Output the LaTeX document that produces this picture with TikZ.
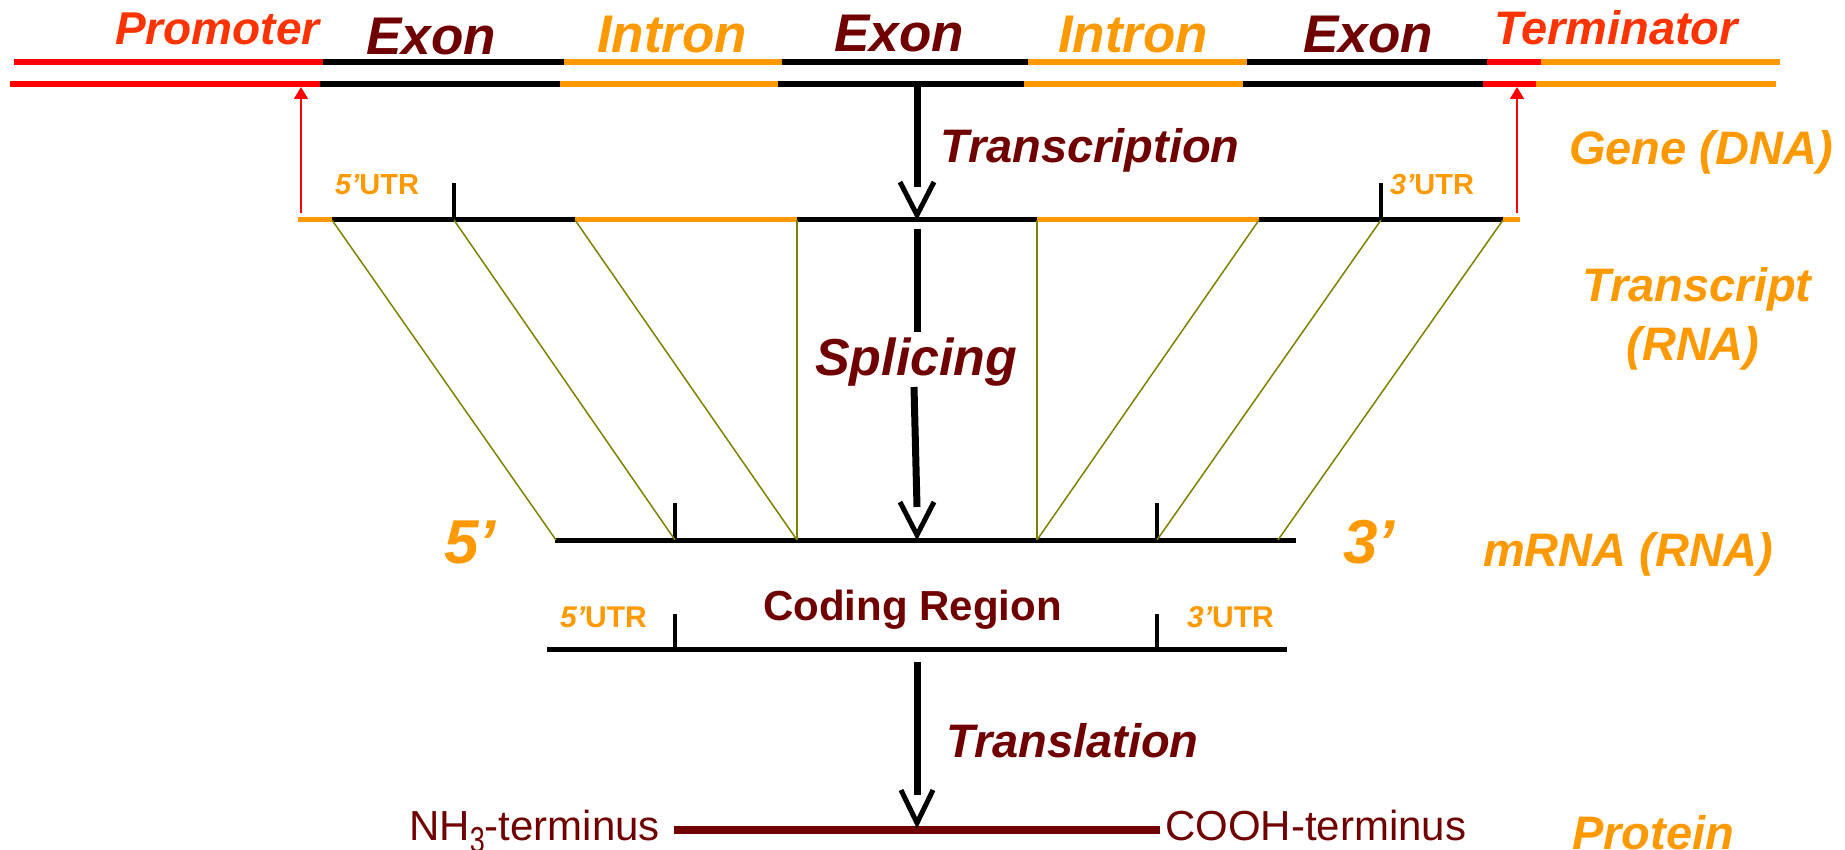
\documentclass[tikz,border=0pt]{standalone}
\usepackage{fontspec}
\usepackage{graphicx}
\setmainfont{Liberation Sans}
\usetikzlibrary{arrows.meta,calc}
\definecolor{dred}{HTML}{700000}
\definecolor{orng}{HTML}{FF9900}
\definecolor{pred}{HTML}{FF3300}
\definecolor{olv}{HTML}{808000}
\newcommand{\setfs}[1]{\fontsize{#1}{#1}\selectfont}
\newcommand{\bigsub}[1]{\raisebox{-12pt}{\scalebox{0.75}[1]{\setfs{36}#1}}}
\begin{document}
\begin{tikzpicture}[x=1pt,y=-1pt,
  dna/.style={line width=6pt},
  rna/.style={line width=5pt},
  tickmark/.style={line width=4.5pt,black},
  olive/.style={olv,line width=1.5pt},
  shaft/.style={line width=7pt,black},
  vhead/.style={line width=5pt,black,line join=miter},
  redarr/.style={red,line width=1.5pt,-{Triangle[length=12pt,width=14pt]}},
  bi/.style={inner sep=0pt,anchor=base west,font=\bfseries\itshape\setfs{#1}},
  bu/.style={inner sep=0pt,anchor=base west,font=\bfseries\setfs{#1}},
  ru/.style={inner sep=0pt,anchor=base west,font=\setfs{#1}},
  bic/.style={inner sep=0pt,anchor=base,font=\bfseries\itshape\setfs{#1}}
]
\useasboundingbox (0,0) rectangle (1845,850);

% ---------- DNA strands ----------
\draw[dna,red]   (14,62) -- (323,62);
\draw[dna,black] (323,62) -- (564,62);
\draw[dna,orng]  (564,62) -- (782,62);
\draw[dna,black] (782,62) -- (1028,62);
\draw[dna,orng]  (1028,62) -- (1247,62);
\draw[dna,black] (1247,62) -- (1487,62);
\draw[dna,red]   (1487,62) -- (1541,62);
\draw[dna,orng]  (1541,62) -- (1780,62);

\draw[dna,red]   (10,84) -- (320,84);
\draw[dna,black] (320,84) -- (560,84);
\draw[dna,orng]  (560,84) -- (778,84);
\draw[dna,black] (778,84) -- (1024,84);
\draw[dna,orng]  (1024,84) -- (1243,84);
\draw[dna,black] (1243,84) -- (1483,84);
\draw[dna,red]   (1483,84) -- (1536,84);
\draw[dna,orng]  (1536,84) -- (1776,84);

% ---------- top labels ----------
\node[bi=46,text=pred] (prom) at (115,45) {Promoter};
\node[bi=53,text=dred] (ex1) at (366,55) {Exon};
\node[bi=53,text=orng] (in1) at (597,53) {Intron};
\node[bi=53,text=dred] (ex2) at (834,52) {Exon};
\node[bi=53,text=orng] (in2) at (1058,53) {Intron};
\node[bi=53,text=dred] (ex3) at (1303,53) {Exon};
\node[bi=47,text=pred] (term) at (1494,45) {Terminator};

% ---------- transcript ----------
\coordinate (t0) at (298,220);
\coordinate (t1) at (332,220);
\coordinate (tu5) at (454,220);
\coordinate (t2) at (575,220);
\coordinate (t3) at (797,220);
\coordinate (t4) at (1037,220);
\coordinate (t5) at (1259,220);
\coordinate (tu3) at (1381,220);
\coordinate (t6) at (1503,220);
\coordinate (t7) at (1520,220);
\draw[rna,orng]  (t0) -- (t1);
\draw[rna,black] (t1) -- (t2);
\draw[rna,orng]  (t2) -- (t3);
\draw[rna,black] (t3) -- (t4);
\draw[rna,orng]  (t4) -- (t5);
\draw[rna,black] (t5) -- (t6);
\draw[rna,orng]  (t6) -- (t7);
\draw[tickmark] (454,183) -- (tu5);
\draw[tickmark] (1381,183) -- (tu3);
\node[bu=29,text=orng] (u5a) at (335,195) {{\itshape 5’}UTR};
\node[bu=29,text=orng] (u3a) at (1390,195) {{\itshape 3’}UTR};

% red arrows (promoter / terminator)
\coordinate (rl0) at (301,213); \coordinate (rl1) at (301,87);
\coordinate (rr0) at (1517,213); \coordinate (rr1) at (1517,87);
\draw[redarr] (rl0) -- (rl1);
\draw[redarr] (rr0) -- (rr1);

% ---------- mRNA ----------
\coordinate (m0) at (556,540);
\coordinate (mu5) at (675,540);
\coordinate (m1) at (797,540);
\coordinate (m2) at (1037,540);
\coordinate (mu3) at (1157,540);
\coordinate (m3) at (1278,540);
\draw[rna,black] (555,540) -- (1296,540);
\draw[tickmark] (675,503) -- (mu5);
\draw[tickmark] (1157,503) -- (mu3);

% splicing connectors
\draw[olive] (t1) -- (m0);
\draw[olive] (tu5) -- (mu5);
\draw[olive] (t2) -- (m1);
\draw[olive] (t3) -- (m1);
\draw[olive] (t4) -- (m2);
\draw[olive] (t5) -- (m2);
\draw[olive] (tu3) -- (mu3);
\draw[olive] (t6) -- (m3);

\node[bi=62,text=orng] (five) at (444,563) {5’};
\node[bi=62,text=orng] (three) at (1343,563) {3’};

% ---------- coding region ----------
\draw[rna,black] (547,649) -- (1287,649);
\draw[tickmark] (675,614) -- (675,649);
\draw[tickmark] (1157,614) -- (1157,649);
\node[bu=30,text=orng] (u5b) at (560,627) {{\itshape 5’}UTR};
\node[bu=30,text=orng] (u3b) at (1187,627) {{\itshape 3’}UTR};
\node[bu=42,text=dred] (cod) at (763,620) {Coding Region};

% ---------- protein ----------
\coordinate (p0) at (674,830);
\coordinate (p1) at (1160,830);
\draw[line width=8pt,dred] (p0) -- (p1);
\node[ru=42,text=dred] (nh) at (409,840) {NH\bigsub{3}-terminus};
\node[ru=42,text=dred] (cooh) at (1165,840) {COOH-terminus};

% ---------- process arrows ----------
\coordinate (a1s) at (917,84);  \coordinate (a1e) at (917,187); \coordinate (a1t) at (917,215);
\draw[shaft] (a1s) -- (a1e);
\draw[vhead] ($(a1t)+(-17,-33)$) -- (a1t) -- ($(a1t)+(17,-33)$);
\node[bi=47,text=dred] (trc) at (940,163) {Transcription};

\coordinate (a2s) at (917,229); \coordinate (a2m) at (917,332);
\coordinate (a2n) at (914,387); \coordinate (a2e) at (917,507); \coordinate (a2t) at (917,535);
\draw[shaft] (a2s) -- (a2m);
\draw[shaft] (a2n) -- (a2e);
\draw[vhead] ($(a2t)+(-17,-33)$) -- (a2t) -- ($(a2t)+(17,-33)$);
\node[bi=52,text=dred] (spl) at (815,375) {Splicing};

\coordinate (a3s) at (917,662); \coordinate (a3e) at (917,795); \coordinate (a3t) at (917,823);
\draw[shaft] (a3s) -- (a3e);
\draw[vhead] ($(a3t)+(-16,-33)$) -- (a3t) -- ($(a3t)+(16,-33)$);
\node[bi=47,text=dred] (trl) at (946,757) {Translation};

% ---------- right-hand labels ----------
\node[bi=47,text=orng] (gene) at (1569,165) {Gene (DNA)};
\node[bic=47,text=orng] (trs1) at (1697,302) {Transcript};
\node[bic=47,text=orng] (trs2) at (1693,360) {(RNA)};
\node[bi=47,text=orng] (mrna) at (1483,566) {mRNA (RNA)};
\node[bi=47,text=orng] (prot) at (1572,849) {Protein};
\end{tikzpicture}
\end{document}
